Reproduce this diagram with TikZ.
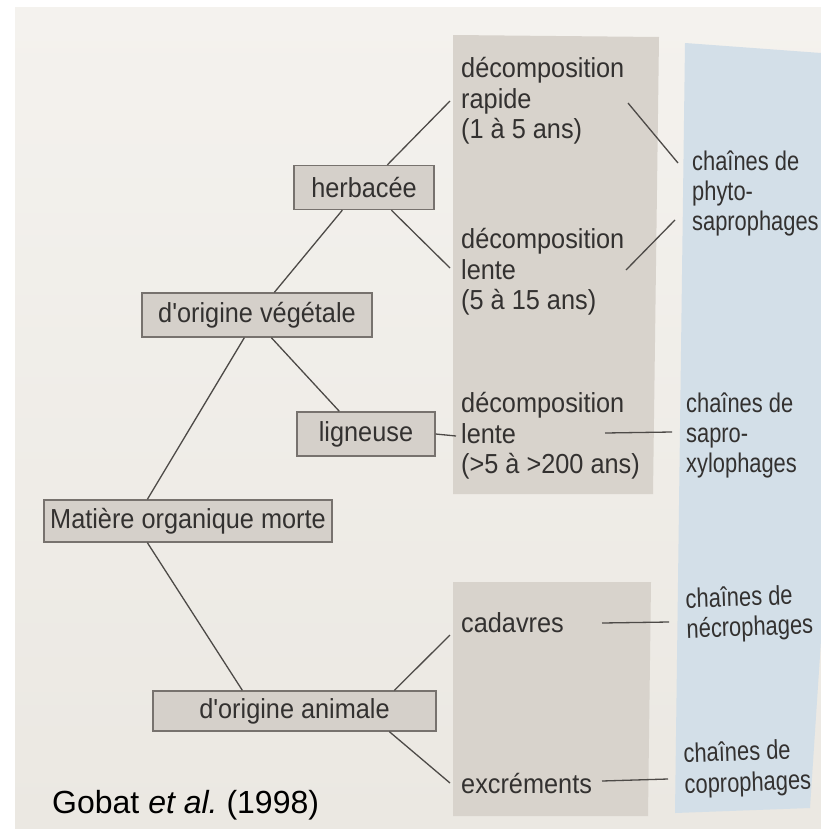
\documentclass[tikz,border=0pt]{standalone}
\usepackage{fontspec}
\setmainfont{Liberation Sans}
\newfontfamily\mainsans{Liberation Sans}[FakeStretch=0.92]
\newfontfamily\narrowsans{Liberation Sans}[FakeStretch=0.81]
\usetikzlibrary{calc}

\definecolor{papertop}{HTML}{F4F2EE}
\definecolor{paperbot}{HTML}{EBE8E2}
\definecolor{colgray}{HTML}{D8D3CC}
\definecolor{boxfill}{HTML}{D5D0CA}
\definecolor{boxline}{HTML}{77726E}
\definecolor{panelblue}{HTML}{D3DFE8}
\definecolor{ink}{HTML}{333130}
\definecolor{linkgray}{HTML}{4D4A47}

\newcommand{\apos}{\symbol{39}}

\tikzset{
  box/.style={draw=boxline, line width=1.3pt, fill=boxfill, inner sep=0pt,
    minimum height=44pt, text=ink, font=\mainsans\fontsize{27.5}{30.5}\selectfont},
  txt/.style={inner sep=0pt, anchor=west, align=left, text=ink,
    font=\mainsans\fontsize{27.5}{30.5}\selectfont},
  chain/.style={inner sep=0pt, anchor=west, align=left, text=ink,
    font=\narrowsans\fontsize{27}{30}\selectfont},
  link/.style={draw=linkgray, line width=1.3pt}
}

\begin{document}
\begin{tikzpicture}[x=1pt, y=-1pt]
\useasboundingbox (0,0) rectangle (821,835);
\fill[white] (0,0) rectangle (821,835);
% page
\shade[top color=papertop, bottom color=paperbot] (15,7) rectangle (821,828);
% grey columns
\fill[colgray] (453,35) -- (659,37) -- (653,494) -- (453,494) -- cycle;
\fill[colgray] (453,582) -- (651,582) -- (648,816) -- (453,816) -- cycle;
% blue panel of the food chains
\fill[panelblue] (685,43) -- (821,53) -- (821,640) -- (810,808) -- (675,813) -- cycle;

% boxes
\node[box, minimum width=140pt] (herb) at (364,187.5) {herbacée};
\node[box, minimum width=230pt] (veg)  at (257,315)   {d\apos origine végétale};
\node[box, minimum width=138pt] (lig)  at (366,434)   {ligneuse};
\node[box, minimum width=288pt, minimum height=42pt] (mat) at (188,521) {Matière organique morte};
\node[box, minimum width=283pt, minimum height=40pt] (anim) at (294.5,711) {d\apos origine animale};

% decomposition column
\node[txt] (rapid)  at (461,101) {décomposition\\rapide\\(1 à 5 ans)};
\node[txt] (lente2) at (461,272) {décomposition\\lente\\(5 à 15 ans)};
\node[txt] (lente3) at (461,436) {décomposition\\lente\\(>5 à >200 ans)};
\node[txt] (cad)    at (461,623) {cadavres};
\node[txt] (exc)    at (461,783) {excréments};

% food chains
\node[chain] (phyto) at (692,193) {chaînes de\\phyto-\\saprophages};
\node[chain] (xylo)  at (686,435) {chaînes de\\sapro-\\xylophages};
\node[chain, rotate=2] (necro) at (686,616) {chaînes de\\nécrophages};
\node[chain, rotate=2, font=\narrowsans\fontsize{27}{31}\selectfont] (copro) at (684,771) {chaînes de\\coprophages};

% source
\node[anchor=base west, inner sep=0pt, text=black,
  font=\fontsize{32}{38}\selectfont] (cite) at (52,813) {Gobat \textit{et al.}\ (1998)};

% tree connectors
\draw[link] ([xshift=94pt]herb.north west) -- ([xshift=-11pt]rapid.west);
\draw[link] ([xshift=98pt]herb.south west) -- ([xshift=-11pt,yshift=4pt]lente2.west);
\draw[link] ([xshift=133pt]veg.north west) -- ([xshift=49pt]herb.south west);
\draw[link] ([xshift=130pt]veg.south west) -- ([xshift=43pt]lig.north west);
\draw[link] ([xshift=103pt]veg.south west) -- ([xshift=104pt]mat.north west);
\draw[link] ([xshift=104pt]mat.south west) -- ([xshift=90pt]anim.north west);
\draw[link] ([xshift=242pt]anim.north west) -- ([xshift=-11pt,yshift=-12pt]cad.west);
\draw[link] ([xshift=237pt]anim.south west) -- ([xshift=-11pt]exc.west);
\draw[link] (lig.east) -- ([xshift=-5pt]lente3.west);

% links to the food chains
\draw[link] ([xshift=167pt,yshift=-2pt]rapid.west) -- ([xshift=-14pt,yshift=30pt]phyto.west);
\draw[link] ([xshift=165pt,yshift=2pt]lente2.west) -- ([xshift=-17pt,yshift=-27pt]phyto.west);
\draw[link] ([xshift=144pt,yshift=3pt]lente3.west) -- ([xshift=-14pt,yshift=3pt]xylo.west);
\draw[link] ([xshift=141pt]cad.west) -- ([xshift=-17pt,yshift=-6pt]necro.west);
\draw[link] ([xshift=141pt,yshift=2pt]exc.west) -- ([xshift=-16pt,yshift=-8pt]copro.west);
\end{tikzpicture}
\end{document}
